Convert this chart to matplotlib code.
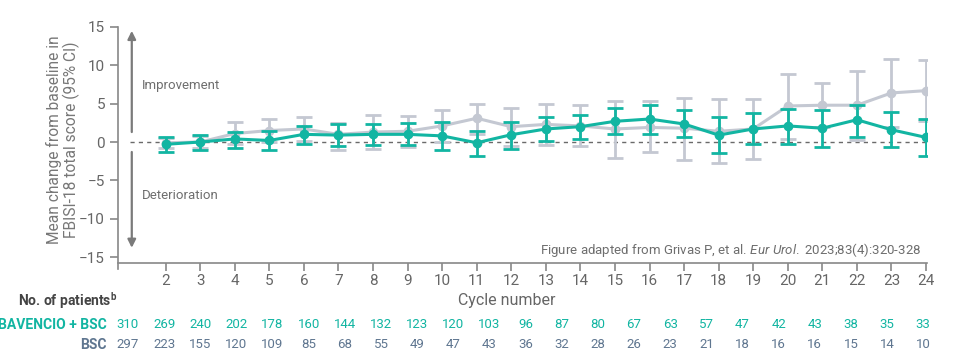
import numpy as np
import matplotlib
matplotlib.use("Agg")
import matplotlib.pyplot as plt
import matplotlib.transforms as mtransforms

plt.rcParams['font.family'] = ['Roboto', 'DejaVu Sans']
plt.rcParams['mathtext.fontset'] = 'custom'
plt.rcParams['mathtext.rm'] = 'Roboto'
plt.rcParams['mathtext.it'] = 'Roboto:italic'
plt.rcParams['mathtext.bf'] = 'Roboto:bold'

# ---- data ----
cycles = list(range(2, 25))
bav_mean = [-0.3, 0.0, 0.4, 0.2, 1.0, 0.9, 1.0, 1.0, 0.8, -0.1, 0.95, 1.7, 2.0, 2.7, 3.0,
            2.35, 0.9, 1.7, 2.1, 1.8, 2.9, 1.6, 0.6]
bav_hi = [0.6, 0.9, 1.3, 1.4, 2.1, 2.3, 2.3, 2.5, 2.6, 1.5, 2.6, 3.2, 3.5, 4.4, 4.8,
          4.2, 3.3, 3.8, 4.3, 4.2, 4.8, 3.9, 3.0]
bav_lo = [-1.3, -1.0, -0.8, -1.1, -0.2, -0.5, -0.4, -0.4, -1.0, -1.8, -0.9, 0.1, 0.4, 1.0, 1.1,
          0.6, -1.4, -0.3, -0.2, -0.7, 0.7, -0.7, -1.8]
bsc_mean = [-0.1, 0.0, 1.1, 1.5, 1.7, 1.0, 1.3, 1.4, 2.1, 3.1, 2.0, 2.3, 2.1, 1.7, 1.9,
            1.8, 1.4, 1.7, 4.7, 4.8, 4.8, 6.4, 6.7]
bsc_hi = [0.5, 0.8, 2.6, 3.0, 3.2, 2.5, 3.5, 3.4, 4.2, 5.0, 4.5, 5.0, 4.8, 5.3, 5.3,
          5.7, 5.6, 5.6, 8.9, 7.7, 9.2, 10.8, 10.7]
bsc_lo = [-0.8, -0.8, -0.3, 0.0, 0.1, -1.0, -0.9, -0.6, 0.0, 1.1, -0.5, -0.35, -0.5, -2.1, -1.3,
          -2.3, -2.7, -2.2, 0.4, 1.9, 0.3, 1.9, 2.7]
n_bav = [310, 269, 240, 202, 178, 160, 144, 132, 123, 120, 103, 96, 87, 80, 67, 63, 57, 47, 42, 43, 38, 35, 33]
n_bsc = [297, 223, 155, 120, 109, 85, 68, 55, 49, 47, 43, 36, 32, 28, 26, 23, 21, 18, 16, 16, 15, 14, 10]
yticks = [-15, -10, -5, 0, 5, 10, 15]

TEAL = '#12B5A2'
GRAY = '#C4C8D2'
SLATE = '#5F7690'
TXT = '#6E6E6E'
AX = '#888888'

fig = plt.figure(figsize=(9.65, 3.51), dpi=100)
ax = fig.add_axes([118.3/965, 1-263/351, (926.7-118.3)/965, (263-27)/351])
ax.set_xlim(0.63, 24.02)
ax.set_ylim(-15.78, 15)

def errs(m, lo, hi):
    m = np.array(m); return [m - np.array(lo), np.array(hi) - m]

ax.plot([0.98, 24.17], [0, 0], ls=(0, (3, 3)), color='#6A6A6A', lw=1.0, zorder=1)

ax.errorbar(cycles, bsc_mean, yerr=errs(bsc_mean, bsc_lo, bsc_hi), color=GRAY, lw=2.2,
            marker='o', ms=6, capsize=5.5, capthick=2.0, elinewidth=2.0, zorder=2)
ax.errorbar(cycles, bav_mean, yerr=errs(bav_mean, bav_lo, bav_hi), color=TEAL, lw=2.2,
            marker='o', ms=6, capsize=5.5, capthick=2.0, elinewidth=2.0, zorder=3)

# arrows
ax.annotate('', xy=(1.02, 14.5), xytext=(1.02, 1.3),
            arrowprops=dict(arrowstyle='-|>', color='#7A7A7A', lw=1.6, mutation_scale=12, shrinkA=0, shrinkB=0))
ax.annotate('', xy=(1.02, -13.8), xytext=(1.02, -1.3),
            arrowprops=dict(arrowstyle='-|>', color='#7A7A7A', lw=1.6, mutation_scale=12, shrinkA=0, shrinkB=0))
ax.text(1.3, 7.4, 'Improvement', color=TXT, fontsize=9.5, va='center', ha='left')
ax.text(1.3, -7.0, 'Deterioration', color=TXT, fontsize=9.5, va='center', ha='left')

ax.text(23.85, -14.1, r'Figure adapted from Grivas P, et al. $\it{Eur\ Urol.}$ 2023;83(4):320-328',
        color=TXT, fontsize=9.5, ha='right', va='center')

for s in ['top', 'right']:
    ax.spines[s].set_visible(False)
for s in ['left', 'bottom']:
    ax.spines[s].set_color(AX)
    ax.spines[s].set_linewidth(1.2)
ax.spines['left'].set_bounds(-16.5, 15)
ax.set_yticks(yticks)
ax.set_xticks(cycles)
ax.tick_params(axis='both', colors=AX, labelcolor='#666666', labelsize=11, length=6, width=1.2)
ax.tick_params(axis='x', pad=2)
fig.text(63/965, 1-140/351, 'Mean change from baseline in\nFBISI-18 total score (95% CI)', color='#777777',
         fontsize=11.2, linespacing=1.1, rotation=90, ha='center', va='center', multialignment='center')

fig.text(507/965, 1-301/351, 'Cycle number', color='#666666', fontsize=11.5, ha='center', va='center')
fig.text(18/965, 1-301/351, r'No. of patients$^\mathbf{b}$', color='#444444', fontsize=10,
         fontweight='bold', ha='left', va='center')
fig.text(107/965, 1-325/351, 'BAVENCIO + BSC', color=TEAL, fontsize=10, fontweight='bold',
         ha='right', va='center')
fig.text(107/965, 1-345/351, 'BSC', color=SLATE, fontsize=10, fontweight='bold',
         ha='right', va='center')

trans = mtransforms.blended_transform_factory(ax.transData, fig.transFigure)
xpos = np.linspace(0.91, 23.92, len(n_bav))
for x, a, b in zip(xpos, n_bav, n_bsc):
    fig.text(x, 1-325/351, str(a), transform=trans, color=TEAL, fontsize=9.5, ha='center', va='center')
    fig.text(x, 1-345/351, str(b), transform=trans, color=SLATE, fontsize=9.5, ha='center', va='center')

fig.savefig('out.png', dpi=100)
